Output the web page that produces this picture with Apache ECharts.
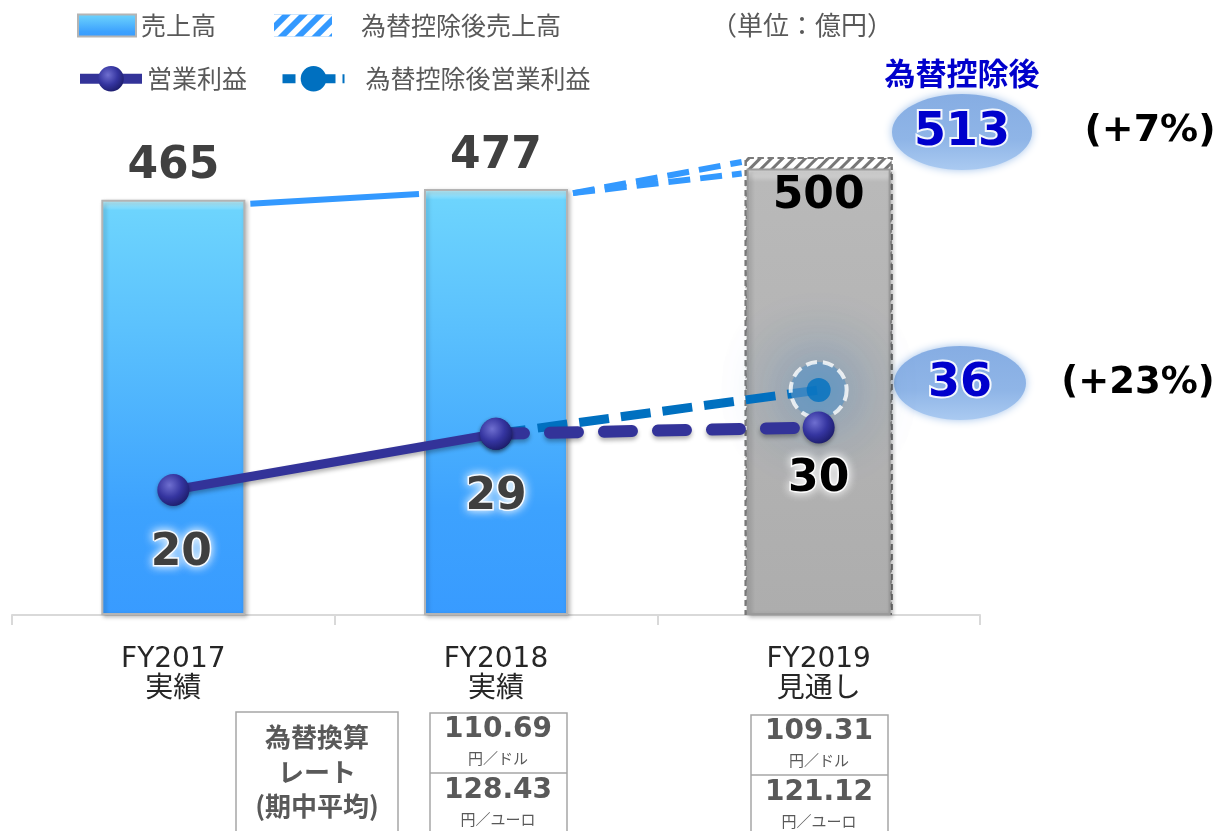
<!DOCTYPE html>
<html><head><meta charset="utf-8">
<script src="https://cdn.jsdelivr.net/npm/echarts@6/dist/echarts.min.js"></script>
<style>html,body{margin:0;padding:0;background:#fff}#c{width:1221px;height:831px}</style>
</head><body><div id="c"></div>
<script>
// ---- data ----
const categories = ['FY2017\n実績', 'FY2018\n実績', 'FY2019\n見通し'];
const sales = [465, 477, 500];
const salesExFx = [null, null, 513];
const opProfit = [20, 29, 30];
const opProfitExFx = [null, 29, 36];
const usdRates = ['', '110.69', '109.31'];
const eurRates = ['', '128.43', '121.12'];
const salesChange = '(+7%)';
const opChange = '(+23%)';
const unitText = '（単位：億円）';

// ---- styles ----
const NUM = 'DejaVu Sans, Noto Sans CJK JP, sans-serif';
const JP = 'Noto Sans CJK JP, sans-serif';
const MIX = 'DejaVu Sans, Noto Sans CJK JP, sans-serif';
const BAR_W = 144;

const blueBar = {
  color: { type: 'linear', x: 0, y: 0, x2: 0, y2: 1, colorStops: [
    { offset: 0, color: '#c9f7ff' }, { offset: 0.025, color: '#6dd4fd' },
    { offset: 0.3, color: '#5cc2fd' }, { offset: 0.75, color: '#3da2fe' }, { offset: 1, color: '#389bff' }] },
  borderColor: '#b4b4b4', borderWidth: 2,
  shadowColor: 'rgba(0,0,0,0.25)', shadowBlur: 4, shadowOffsetX: 2, shadowOffsetY: 2
};
const grayBar = {
  color: { type: 'linear', x: 0, y: 0, x2: 0, y2: 1, colorStops: [
    { offset: 0, color: '#e6e6e6' }, { offset: 0.03, color: '#b9b9b9' }, { offset: 1, color: '#adadad' }] },
  borderColor: '#9a9a9a', borderWidth: 2,
  shadowColor: 'rgba(0,0,0,0.25)', shadowBlur: 4, shadowOffsetX: 2, shadowOffsetY: 2
};
const sphere = {
  color: { type: 'radial', x: 0.38, y: 0.35, r: 0.7, colorStops: [
    { offset: 0, color: '#6f6fd0' }, { offset: 0.55, color: '#3535a0' }, { offset: 1, color: '#1c1c6a' }] },
  shadowColor: 'rgba(0,0,0,0.35)', shadowBlur: 4, shadowOffsetY: 2
};
const glowLabel = {
  show: true, fontFamily: NUM, fontWeight: 'bold', fontSize: 44, color: '#3f3f3f',
  textBorderColor: 'rgba(255,255,255,0.9)', textBorderWidth: 3,
  textShadowColor: '#ffffff', textShadowBlur: 10
};

const chart = echarts.init(document.getElementById('c'));

const salesData = sales.map((v, i) => i === 2
  ? { value: v, itemStyle: grayBar, label: { position: 'insideTop', distance: 6, color: '#000' } }
  : { value: v });

const opSolid = opProfit.map((v, i) => i < 2 ? { value: v, label: { distance: 26, offset: [i === 0 ? 8 : 0, 0] } } : '-');
const opDashed = opProfit.map((v, i) => i >= 1 ? { value: v, label: { show: i === 2, color: '#000', distance: 14 } } : '-');
const opExFx = opProfitExFx.map(v => v == null ? '-' : { value: v, symbol: 'none' });

const connectors = [
  [0, sales[0], 1, sales[1], 0],
  [1, sales[1], 2, salesExFx[2], 1],
  [1, sales[1], 2, sales[2], 1]
];

function txt(x, y, text, font, fill, extra) {
  return { type: 'text', x: x, y: y, style: Object.assign({ text: text, font: font, fill: fill, align: 'center', verticalAlign: 'middle' }, extra || {}) };
}
const ellipseFill = { type: 'linear', x: 0, y: 0, x2: 0, y2: 1, colorStops: [
  { offset: 0, color: '#86ade3' }, { offset: 0.6, color: '#8fb5e7' }, { offset: 1, color: '#aacaf1' }] };
const bigNumStyle = { stroke: 'rgba(255,255,255,0.9)', lineWidth: 4, shadowBlur: 8, shadowColor: '#ffffff' };

const graphics = [
  txt(802, 25, unitText, '26px ' + JP, '#595959'),
  txt(962, 73, '為替控除後', 'bold 31px ' + JP, '#0000cc'),
  { type: 'ellipse', shape: { cx: 962, cy: 132, rx: 70, ry: 38 }, style: { fill: ellipseFill, shadowBlur: 8, shadowColor: 'rgba(140,180,230,0.8)' } },
  txt(962, 133, String(salesExFx[2]), 'bold 46px ' + NUM, '#0000cc', bigNumStyle),
  txt(1150, 131, salesChange, 'bold 38px ' + NUM, '#000'),
  { type: 'ellipse', shape: { cx: 960, cy: 383, rx: 66, ry: 37 }, style: { fill: ellipseFill, shadowBlur: 8, shadowColor: 'rgba(140,180,230,0.8)' } },
  txt(960, 384, String(opProfitExFx[2]), 'bold 46px ' + NUM, '#0000cc', bigNumStyle),
  txt(1138, 383, opChange, 'bold 37px ' + NUM, '#000'),
  // exchange-rate table
  { type: 'rect', shape: { x: 236, y: 712, width: 162, height: 140 }, style: { fill: '#fff', stroke: '#a6a6a6', lineWidth: 1.5 } },
  txt(317, 737, '為替換算', 'bold 26px ' + JP, '#595959'),
  txt(317, 772, 'レート', 'bold 26px ' + JP, '#595959'),
  txt(317, 806, '(期中平均)', 'bold 26px ' + JP, '#595959')
];
[[1, 498, 713], [2, 819, 715]].forEach(([i, cx, top]) => {
  graphics.push(
    { type: 'rect', shape: { x: cx - 68, y: top, width: 137, height: 140 }, style: { fill: '#fff', stroke: '#a6a6a6', lineWidth: 1.5 } },
    { type: 'line', shape: { x1: cx - 68, y1: top + 60, x2: cx + 69, y2: top + 60 }, style: { stroke: '#a6a6a6', lineWidth: 1.5 } },
    txt(cx, top + 17, usdRates[i], 'bold 28px ' + NUM, '#595959'),
    txt(cx, top + 45, '円／ドル', '15px ' + JP, '#595959'),
    txt(cx, top + 78, eurRates[i], 'bold 28px ' + NUM, '#595959'),
    txt(cx, top + 106, '円／ユーロ', '15px ' + JP, '#595959')
  );
});

chart.setOption({
  animation: false,
  backgroundColor: '#fff',
  grid: { left: 12, right: 241, top: 115, bottom: 216 },
  legend: [
    { left: 72, top: 8, itemWidth: 58, itemHeight: 22, itemGap: 58, selectedMode: false,
      textStyle: { fontSize: 25, color: '#595959', fontFamily: JP, rich: { g: { width: 24 } } },
      formatter: n => n === '為替控除後売上高' ? '{g|}' + n : n,
      data: [
        { name: '売上高', icon: 'rect', itemStyle: { color: blueBar.color, borderColor: '#b4b4b4', borderWidth: 2 } },
        { name: '為替控除後売上高', icon: 'rect', itemStyle: { color: '#3399ff', borderWidth: 0,
          decal: { symbol: 'rect', color: '#ffffff', dashArrayX: [1, 0], dashArrayY: [6, 6], rotation: -Math.PI / 4 } } }
      ] },
    { left: 70, top: 61, itemWidth: 62, itemHeight: 32, itemGap: 31, selectedMode: false,
      textStyle: { fontSize: 25, color: '#595959', fontFamily: JP, rich: { g: { width: 16 } } },
      formatter: n => n === '為替控除後営業利益' ? '{g|}' + n : n,
      data: [
        { name: '営業利益', lineStyle: { width: 10 } },
        { name: '為替控除後営業利益', lineStyle: { width: 9, type: [13, 7] } }
      ] }
  ],
  xAxis: [
    { type: 'category', data: categories, boundaryGap: true,
      axisLine: { lineStyle: { color: '#d9d9d9', width: 2 } },
      axisTick: { show: true, length: 10, interval: 0, lineStyle: { color: '#d9d9d9', width: 2 } },
      axisLabel: { margin: 30, fontSize: 28, lineHeight: 30, color: '#262626', fontFamily: MIX } },
    { type: 'category', data: categories, show: false }
  ],
  yAxis: [
    { type: 'value', min: 0, max: 560, show: false },
    { type: 'value', min: 0, max: 80, show: false }
  ],
  graphic: graphics,
  series: [
    { name: '為替控除後売上高', type: 'bar', xAxisIndex: 1, yAxisIndex: 0, barWidth: BAR_W + 4, z: 1,
      data: salesExFx.map(v => v == null ? '-' : v),
      itemStyle: { color: '#ffffff', borderColor: '#7a7a7a', borderWidth: 2, borderType: [6, 4],
        decal: { symbol: 'rect', color: '#777777', dashArrayX: [1, 0], dashArrayY: [3, 5], rotation: -Math.PI / 4 } } },
    { name: '売上高', type: 'bar', xAxisIndex: 0, yAxisIndex: 0, barWidth: BAR_W, z: 2,
      data: salesData, itemStyle: blueBar,
      label: { show: true, position: 'top', distance: 11, fontFamily: NUM, fontWeight: 'bold', fontSize: 44, color: '#404040' } },
    { type: 'custom', xAxisIndex: 0, yAxisIndex: 0, z: 3, silent: true,
      encode: { x: [0, 2], y: [1, 3] },
      data: connectors,
      renderItem: function (params, api) {
        const p1 = api.coord([api.value(0), api.value(1)]);
        const p2 = api.coord([api.value(2), api.value(3)]);
        const h = BAR_W / 2;
        const dashed = api.value(4) === 1;
        return { type: 'line',
          shape: { x1: p1[0] + h + 5, y1: p1[1] + 4, x2: p2[0] - h - 5, y2: p2[1] + 5 },
          style: { stroke: '#3399ff', lineWidth: 6, lineDash: dashed ? [22, 10] : null } };
      } },
    { name: '営業利益', type: 'line', xAxisIndex: 0, yAxisIndex: 1, z: 8,
      data: opSolid, symbol: 'circle', symbolSize: 32, itemStyle: sphere,
      lineStyle: { color: '#333399', width: 9, shadowColor: 'rgba(0,0,0,0.3)', shadowBlur: 4, shadowOffsetY: 3 },
      label: Object.assign({}, glowLabel, { position: 'bottom' }) },
    { name: '為替控除後営業利益', type: 'line', xAxisIndex: 0, yAxisIndex: 1, z: 4,
      data: opExFx, symbol: 'circle', symbolSize: 22, showAllSymbol: true,
      itemStyle: { color: '#0070c0' },
      lineStyle: { color: '#0070c0', width: 9, type: [30, 12], cap: 'butt' } },
    { type: 'scatter', xAxisIndex: 0, yAxisIndex: 1, z: 5, silent: true,
      data: [[2, opProfitExFx[2]]], symbolSize: 56,
      itemStyle: { color: 'rgba(92,148,196,0.8)', borderColor: '#ffffff', borderWidth: 4, borderType: [11, 6],
        shadowBlur: 70, shadowColor: 'rgba(30,110,190,1)' } },
    { type: 'scatter', xAxisIndex: 0, yAxisIndex: 1, z: 6, silent: true,
      data: [[2, opProfitExFx[2]]], symbolSize: 24, itemStyle: { color: '#0070c0' } },
    { name: '営業利益', type: 'line', xAxisIndex: 0, yAxisIndex: 1, z: 7,
      data: opDashed, symbol: 'circle', symbolSize: 32, itemStyle: sphere,
      lineStyle: { color: '#333399', width: 12, type: [28, 26], cap: 'round',
        shadowColor: 'rgba(0,0,0,0.3)', shadowBlur: 4, shadowOffsetY: 3 },
      label: Object.assign({}, glowLabel, { position: 'bottom' }) }
  ]
});
</script>
</body></html>
